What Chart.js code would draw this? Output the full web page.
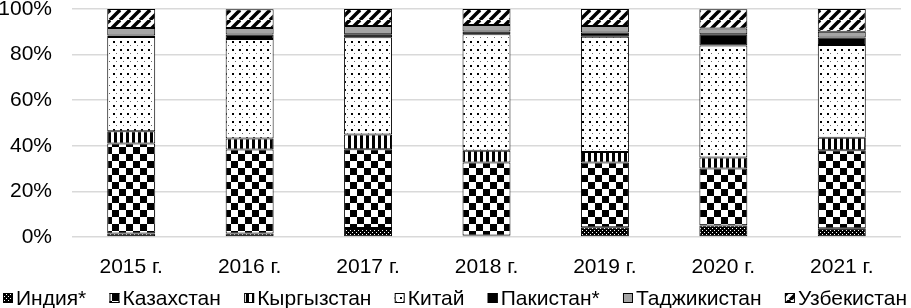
<!DOCTYPE html>
<html>
<head>
<meta charset="utf-8">
<script src="https://cdn.jsdelivr.net/npm/chart.js@4"></script>
<style>
  html, body { margin: 0; padding: 0; background: #fff; }
  #wrap { width: 911px; height: 308px; }
</style>
</head>
<body>
<div id="wrap"><canvas id="chart"></canvas></div>
<script>
// Данные (доли, %)
const years = ["2015 г.", "2016 г.", "2017 г.", "2018 г.", "2019 г.", "2020 г.", "2021 г."];
const india      = [1.5, 1.5, 4.0, 0.7, 4.3, 5.0, 3.8];
const kazakhstan = [39.5, 36.9, 34.5, 32.0, 28.4, 25.0, 34.2];
const kyrgyzstan = [5.4, 4.8, 6.5, 5.1, 4.6, 4.9, 5.5];
const china      = [41.3, 43.6, 42.6, 51.1, 50.5, 49.1, 40.7];
const pakistan   = [0.7, 2.0, 1.3, 1.2, 1.9, 4.9, 3.3];
const tajikistan = [3.3, 2.9, 3.6, 2.9, 2.8, 2.5, 2.5];
const uzbekistan = [8.3, 8.2, 7.5, 7.0, 7.5, 8.5, 10.0];
const yTicks = [0, 20, 40, 60, 80, 100];

// Штриховки
function makePattern(w, h, draw) {
  const c = document.createElement("canvas");
  c.width = w;
  c.height = h;
  const g = c.getContext("2d");
  draw(g, w, h);
  return g.createPattern(c, "repeat");
}

const patIndia = makePattern(4, 4, (g) => {
  g.fillStyle = "#000";
  g.fillRect(0, 0, 4, 4);
  g.fillStyle = "#fff";
  g.fillRect(0, 0, 1, 1);
  g.fillRect(2, 2, 1, 1);
});

const patKaz = makePattern(14, 14, (g) => {
  g.fillStyle = "#fff";
  g.fillRect(0, 0, 14, 14);
  g.fillStyle = "#000";
  g.fillRect(0, 0, 7, 7);
  g.fillRect(7, 7, 7, 7);
});

const patKyr = makePattern(6, 2, (g) => {
  g.fillStyle = "#fff";
  g.fillRect(0, 0, 6, 2);
  g.fillStyle = "#000";
  g.fillRect(0, 0, 3, 2);
});

const patChina = makePattern(7, 8, (g) => {
  g.fillStyle = "#fff";
  g.fillRect(0, 0, 7, 8);
  g.fillStyle = "#000";
  g.fillRect(1, 1, 2, 2);
  g.fillStyle = "#666";
  g.fillRect(4, 5, 1, 1);
});

const patUzb = makePattern(10, 10, (g) => {
  g.fillStyle = "#fff";
  g.fillRect(0, 0, 10, 10);
  g.strokeStyle = "#000";
  g.lineWidth = 3.5;
  [-10, 0, 10].forEach(k => {
    g.beginPath();
    g.moveTo(k, 10);
    g.lineTo(k + 10, 0);
    g.stroke();
  });
});

const series = [
  { label: "Индия*", data: india, fill: patIndia },
  { label: "Казахстан", data: kazakhstan, fill: patKaz },
  { label: "Кыргызстан", data: kyrgyzstan, fill: patKyr },
  { label: "Китай", data: china, fill: patChina },
  { label: "Пакистан*", data: pakistan, fill: "#000" },
  { label: "Таджикистан", data: tajikistan, fill: "#a5a5a5" },
  { label: "Узбекистан", data: uzbekistan, fill: patUzb }
];

const fontFamily = "'Liberation Sans', Arial, sans-serif";

// Легенда в одну строку внизу, растянутая по ширине
const bottomLegend = {
  id: "bottomLegend",
  afterDraw(chart) {
    const ctx = chart.ctx;
    const box = 10, gapText = 3, left = 3, right = 907, y = 298;
    ctx.save();
    ctx.font = "21px " + fontFamily;
    ctx.textBaseline = "middle";
    const items = chart.data.datasets.map(ds => ({
      ds,
      w: ctx.measureText(ds.label).width
    }));
    const used = items.reduce((s, it) => s + box + gapText + it.w, 0);
    const gap = (right - left - used) / (items.length - 1);
    let x = left;
    items.forEach(it => {
      ctx.fillStyle = it.ds.backgroundColor;
      ctx.fillRect(x, y - box / 2, box, box);
      ctx.strokeStyle = "#000";
      ctx.lineWidth = 1;
      ctx.strokeRect(x + 0.5, y - box / 2 + 0.5, box - 1, box - 1);
      ctx.fillStyle = "#000";
      ctx.fillText(it.ds.label, x + box + gapText, y + 1);
      x += box + gapText + it.w + gap;
    });
    ctx.restore();
  }
};

new Chart(document.getElementById("chart"), {
  type: "bar",
  data: {
    labels: years,
    datasets: series.map(s => ({
      label: s.label,
      data: s.data,
      backgroundColor: s.fill,
      borderColor: "#000",
      borderWidth: 1,
      borderSkipped: false,
      barPercentage: 0.405,
      categoryPercentage: 1
    }))
  },
  options: {
    responsive: true,
    maintainAspectRatio: false,
    animation: false,
    layout: { padding: { left: 0, right: 10, top: 0, bottom: 26 } },
    plugins: {
      tooltip: { enabled: false },
      legend: { display: false }
    },
    scales: {
      x: {
        stacked: true,
        grid: { display: false },
        border: { display: false },
        afterFit: axis => { axis.height = 45; },
        ticks: {
          color: "#000",
          font: { family: fontFamily, size: 21 },
          padding: 10
        }
      },
      y: {
        stacked: true,
        min: 0,
        max: 100,
        afterBuildTicks: axis => {
          axis.ticks = yTicks.map(v => ({ value: v }));
        },
        afterFit: axis => {
          axis.width = 72;
          axis.paddingTop = 9;
          axis.paddingBottom = 0;
        },
        grid: { color: "#d9d9d9", lineWidth: 1.5, drawTicks: false },
        border: { display: false },
        ticks: {
          color: "#000",
          font: { family: fontFamily, size: 21 },
          padding: 20,
          callback: v => v + "%"
        }
      }
    }
  },
  plugins: [bottomLegend]
});
</script>
</body>
</html>
